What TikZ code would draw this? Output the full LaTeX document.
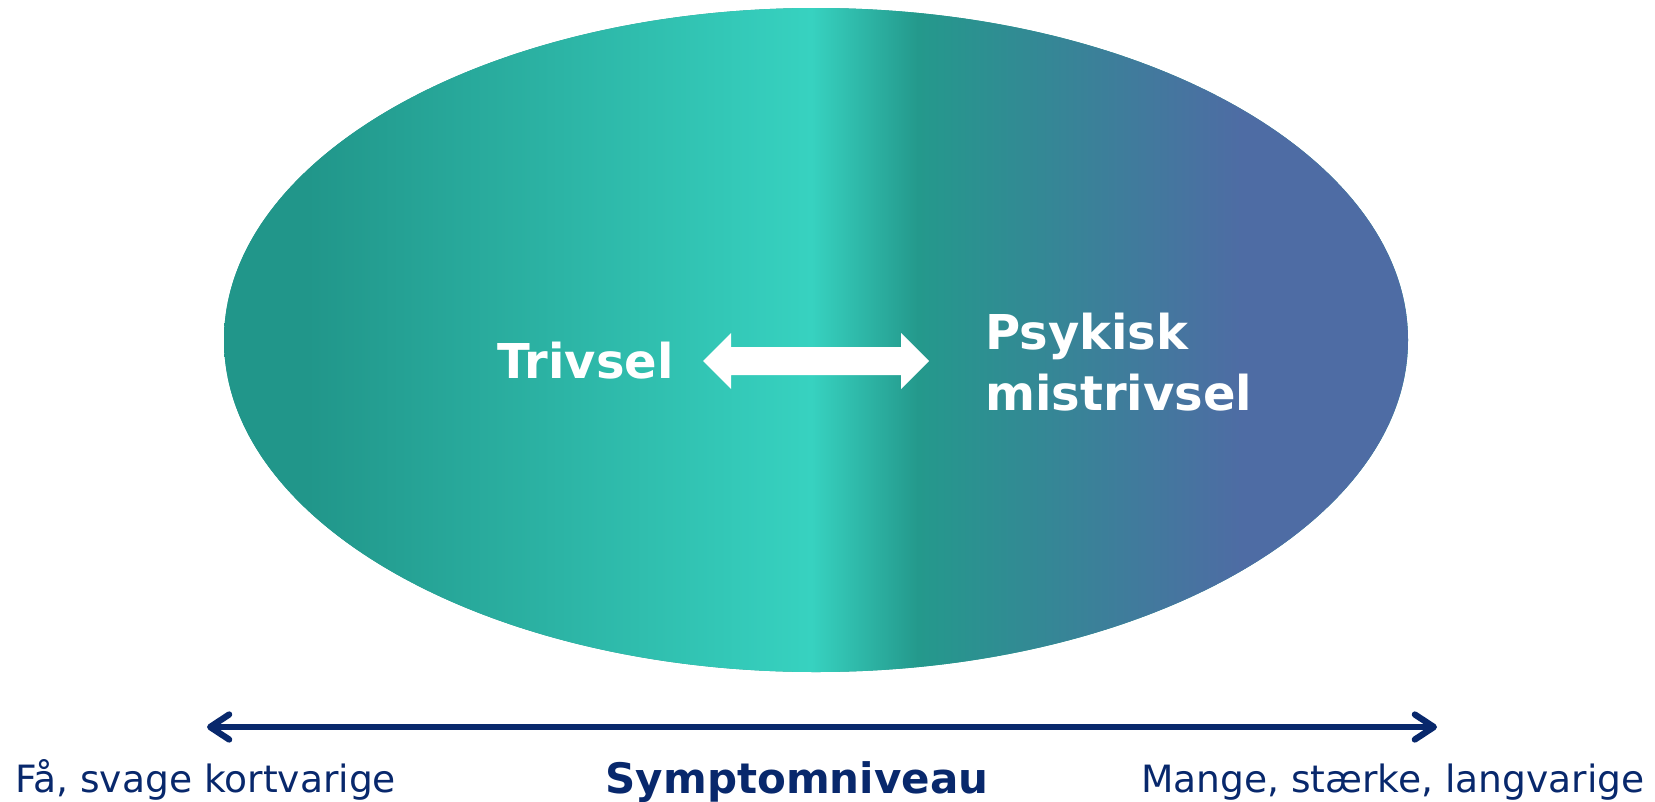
\documentclass[tikz,border=0pt]{standalone}
\usepackage{fontspec}
\setmainfont{DejaVu Sans}
\usetikzlibrary{arrows.meta}
\definecolor{navy}{RGB}{8,40,108}
\definecolor{tealdark}{RGB}{33,150,138}
\definecolor{tealbright}{RGB}{55,210,192}
\definecolor{tealmid}{RGB}{36,153,140}
\definecolor{bluegrey}{RGB}{78,108,164}
\pgfdeclarehorizontalshading{ellshade}{100bp}{%
  color(0bp)=(tealdark); color(28.5bp)=(tealdark);
  color(49.8bp)=(tealbright); color(54.3bp)=(tealmid);
  color(68bp)=(bluegrey); color(100bp)=(bluegrey)}
\tikzset{
  bigtext/.style={text=white, font=\fontsize{48}{61}\selectfont\bfseries, inner sep=0pt},
  scaletext/.style={text=navy, font=\fontsize{37.6}{44}\selectfont, inner sep=0pt},
  axisline/.style={draw=navy, line width=6.3pt, line cap=round,
    {Straight Barb[length=19pt, width=25pt, round]}-{Straight Barb[length=19pt, width=25pt, round]}},
}
\begin{document}
\begin{tikzpicture}[x=1pt, y=-1pt]
\useasboundingbox (0,0) rectangle (1655,801);
% ellipse with gradient
\fill[tealdark] (816,340) ellipse [x radius=592, y radius=332];
\path[shading=ellshade] (816,340) ellipse [x radius=592, y radius=332];
% double arrow
\fill[white] (703,361) -- (731,333) -- (731,347) -- (901,347) -- (901,333) -- (929,361)
  -- (901,389) -- (901,375) -- (731,375) -- (731,389) -- cycle;
\node[bigtext, anchor=base west] (triv) at (497,378) {Trivsel};
\node[bigtext, anchor=west, align=left] (psy) at (985,362) {Psykisk\\mistrivsel};
% axis
\coordinate (la) at (207,727);
\coordinate (ra) at (1437,727);
\draw[axisline] (la) -- (ra);
\node[scaletext, anchor=base west] (few) at (15,792) {Få, svage kortvarige};
\node[text=navy, font=\fontsize{42}{50}\selectfont\bfseries, inner sep=0pt, anchor=base] (sym) at (797,793) {Symptomniveau};
\node[scaletext, anchor=base east] (many) at (1645,792) {Mange, stærke, langvarige};
\end{tikzpicture}
\end{document}
